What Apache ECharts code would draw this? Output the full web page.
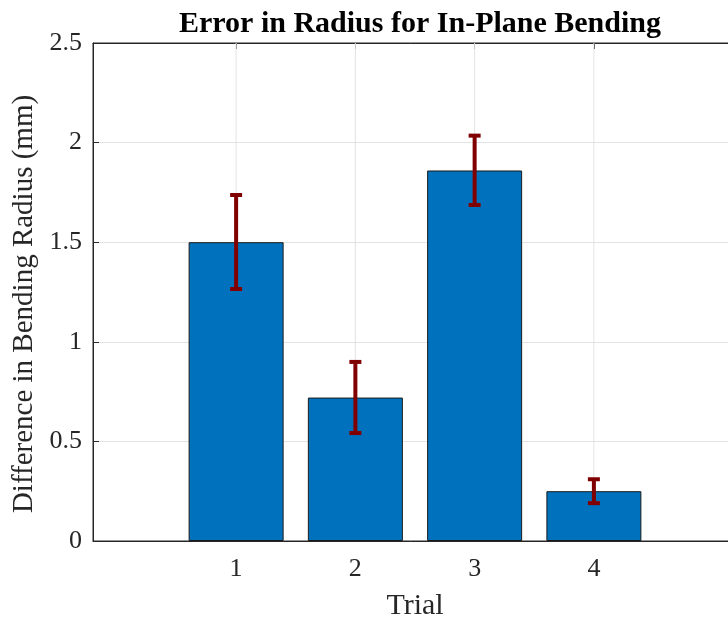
<!DOCTYPE html>
<html>
<head>
<meta charset="utf-8">
<script src="https://cdn.jsdelivr.net/npm/echarts@6/dist/echarts.min.js"></script>
<style>html,body{margin:0;padding:0;background:#fff}#c{width:728px;height:619px}</style>
</head>
<body>
<div id="c"></div>
<script>
const trials = [1, 2, 3, 4];
const radiusError = [1.50, 0.72, 1.86, 0.25];
const errLower = [1.265, 0.542, 1.687, 0.19];
const errUpper = [1.737, 0.899, 2.035, 0.31];
const yTicks = [0, 0.5, 1, 1.5, 2, 2.5];

const FONT = '"Liberation Serif", "Times New Roman", serif';
const AXIS = '#262626';
const GRID = '#e3e3e3';

const chart = echarts.init(document.getElementById('c'), null, {renderer: 'canvas'});
chart.setOption({
  animation: false,
  title: {
    text: 'Error in Radius for In-Plane Bending',
    left: 415, top: 4, textAlign: 'center',
    textStyle: {fontFamily: FONT, fontWeight: 'bold', fontSize: 30, color: '#000'}
  },
  grid: {left: 93, top: 43, width: 644, height: 498, show: true, borderColor: AXIS, borderWidth: 1,
    backgroundColor: 'transparent', containLabel: false, outerBoundsMode: 'none'},
  xAxis: [{
    type: 'value', min: -0.2, max: 5.2,
    name: 'Trial', nameLocation: 'middle', nameGap: 50,
    nameTextStyle: {fontFamily: FONT, fontSize: 30, color: '#262626'},
    axisLine: {show: true, onZero: false, lineStyle: {color: AXIS, width: 1}},
    axisTick: {show: true, inside: true, length: 6, customValues: trials, lineStyle: {color: AXIS}},
    axisLabel: {customValues: trials, fontFamily: FONT, fontSize: 26, color: '#262626', margin: 15},
    splitLine: {show: false}
  }, {
    type: 'value', min: -0.2, max: 5.2, position: 'top',
    axisLine: {show: true, onZero: false, lineStyle: {color: AXIS, width: 1}},
    axisTick: {show: true, inside: true, length: 6, customValues: trials, lineStyle: {color: AXIS}},
    axisLabel: {show: false},
    splitLine: {show: false}
  }],
  yAxis: {
    type: 'value', min: 0, max: 2.5, interval: 0.5,
    name: 'Difference in Bending Radius (mm)', nameLocation: 'middle', nameGap: 49,
    nameTextStyle: {fontFamily: FONT, fontSize: 29, color: '#262626', padding: [0, 24, 0, 0]},
    axisLine: {show: true, onZero: false, lineStyle: {color: AXIS, width: 1}},
    axisTick: {show: true, inside: true, length: 6, lineStyle: {color: AXIS}},
    axisLabel: {fontFamily: FONT, fontSize: 26, color: '#262626', margin: 11,
      formatter: v => String(yTicks.find(t => Math.abs(t - v) < 1e-9) ?? v)},
    splitLine: {show: true, lineStyle: {color: GRID, width: 1}}
  },
  series: [
    {
      type: 'custom', z: 1, silent: true,
      data: trials.map(t => [t, 0, 2.5]),
      renderItem: function (params, api) {
        const x = api.value(0);
        const a = api.coord([x, api.value(1)]);
        const b = api.coord([x, api.value(2)]);
        return {type: 'line', shape: {x1: a[0], y1: a[1], x2: b[0], y2: b[1]},
          style: {stroke: GRID, lineWidth: 1}};
      }
    },
    {
      type: 'bar', z: 3,
      data: trials.map((t, i) => [t, radiusError[i]]),
      barWidth: 95,
      itemStyle: {color: '#0072BD', borderColor: '#1a1a1a', borderWidth: 1}
    },
    {
      type: 'custom', z: 5,
      data: trials.map((t, i) => [t, errLower[i], errUpper[i]]),
      renderItem: function (params, api) {
        const x = api.value(0);
        const lo = api.coord([x, api.value(1)]);
        const hi = api.coord([x, api.value(2)]);
        const w = 6;
        const st = {stroke: '#800000', lineWidth: 4};
        return {
          type: 'group',
          children: [
            {type: 'line', shape: {x1: lo[0], y1: lo[1], x2: hi[0], y2: hi[1]}, style: st},
            {type: 'line', shape: {x1: hi[0] - w, y1: hi[1], x2: hi[0] + w, y2: hi[1]}, style: st},
            {type: 'line', shape: {x1: lo[0] - w, y1: lo[1], x2: lo[0] + w, y2: lo[1]}, style: st}
          ]
        };
      }
    }
  ]
});
</script>
</body>
</html>
